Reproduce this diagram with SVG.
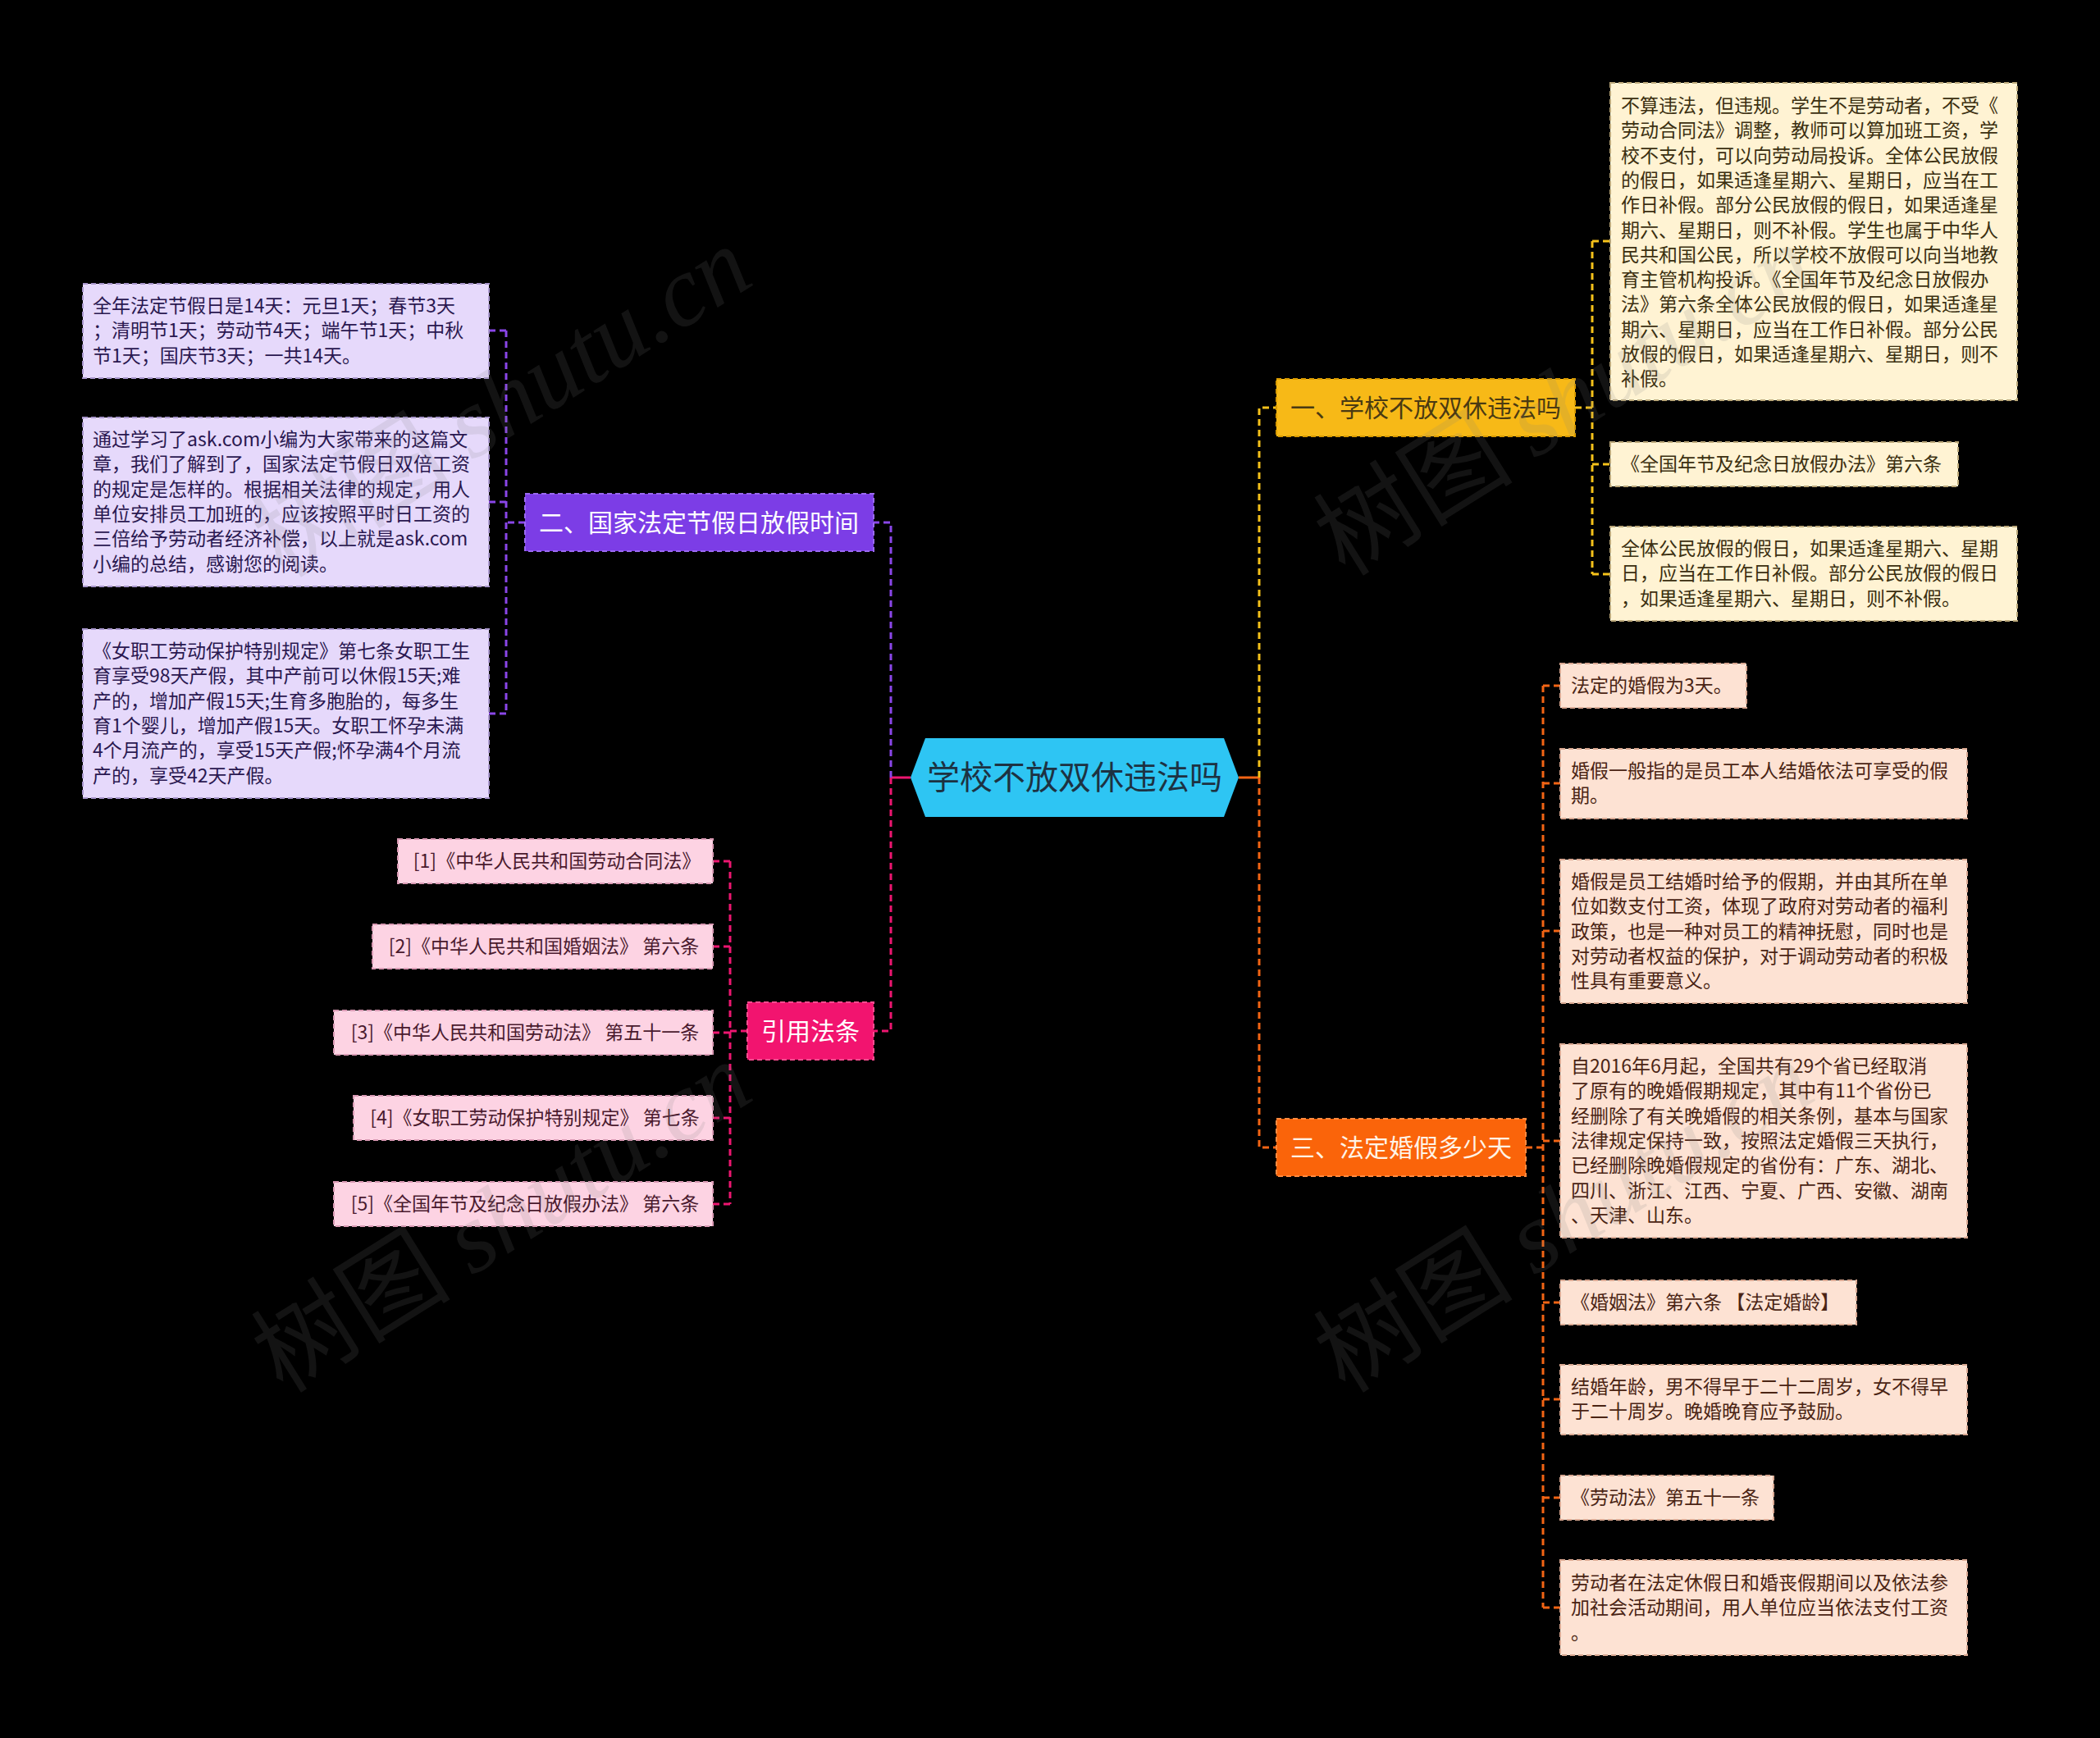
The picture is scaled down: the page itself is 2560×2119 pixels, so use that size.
<svg xmlns="http://www.w3.org/2000/svg" width="2560" height="2119" viewBox="0 0 2560 2119">
<style>
text{font-family:'Noto Sans CJK SC','Noto Sans',sans-serif}
.c{fill:none;stroke-width:3;stroke-dasharray:8 5}
.s{fill:none;stroke-width:3}
.cy{stroke:#f5c11a}.cp{stroke:#8a46e8}.ck{stroke:#ec1670}.co{stroke:#f26414}
.t{font-size:23px}
.m{font-size:30px;text-anchor:middle}
.by{fill:#fff3d3;stroke:#bba87a;stroke-width:2;stroke-dasharray:6 4}
.bp{fill:#e6d9fb;stroke:#a896cc;stroke-width:2;stroke-dasharray:6 4}
.bk{fill:#fdd3e3;stroke:#d99ab4;stroke-width:2;stroke-dasharray:6 4}
.bo{fill:#fde2d3;stroke:#d9a892;stroke-width:2;stroke-dasharray:6 4}
.ty{fill:#3b2f10}.tp{fill:#2a1850}.tk{fill:#4a1a2e}.to{fill:#4a2414}
.wm{fill:#808080;opacity:.15;font-size:122px}
</style>
<rect x="0" y="0" width="2560" height="2119" fill="#000"/>
<g id="connectors">
<path class="s ck" d="M1110 948H1086"/>
<path class="s co" d="M1510 948H1535"/>
<path class="c cp" d="M1086 948V637H1065"/>
<path class="c ck" d="M1086 948V1257H1065"/>
<path class="c cy" d="M1535 948V497H1556"/>
<path class="c co" d="M1535 948V1399H1556"/>
<path class="c cy" d="M1920 497H1941M1941 294V700M1941 294H1963M1941 566H1963M1941 700H1963"/>
<path class="c cp" d="M640 637H617M617 403V870M617 403H596M617 612H596M617 870H596"/>
<path class="c ck" d="M911 1257H890M890 1050V1468M890 1050H869M890 1154H869M890 1259H869M890 1363H869M890 1468H869"/>
<path class="c co" d="M1860 1399H1881M1881 836V1960M1881 836H1902M1881 955H1902M1881 1135H1902M1881 1391H1902M1881 1588H1902M1881 1706H1902M1881 1826H1902M1881 1960H1902"/>
</g>
<g id="root">
<polygon points="1110,948 1128,900 1492,900 1510,948 1492,996 1128,996" fill="#2ec5f3"/>
<text x="1310" y="962" font-size="40" text-anchor="middle" fill="#1d3242">学校不放双休违法吗</text>
</g>
<g id="n1">
<rect x="1556" y="462" width="364" height="70" fill="#f7b917" stroke="#d99b00" stroke-width="2" stroke-dasharray="6 4"/>
<text class="m" x="1738" y="508" fill="#4a3a12">一、学校不放双休违法吗</text>
</g>
<g id="n2">
<rect x="640" y="602" width="425" height="70" fill="#7c3de6" stroke="#9a6af0" stroke-width="2" stroke-dasharray="6 4"/>
<text class="m" x="852" y="648" fill="#fff">二、国家法定节假日放假时间</text>
</g>
<g id="n3">
<rect x="1556" y="1364" width="304" height="70" fill="#fa640a" stroke="#ff8a40" stroke-width="2" stroke-dasharray="6 4"/>
<text class="m" x="1708" y="1410" fill="#fff3e6">三、法定婚假多少天</text>
</g>
<g id="n4">
<rect x="911" y="1222" width="154" height="70" fill="#f2146f" stroke="#ff4d90" stroke-width="2" stroke-dasharray="6 4"/>
<text class="m" x="988" y="1268" fill="#fff">引用法条</text>
</g>
<g id="y1">
<rect class="by" x="1963" y="101" width="496" height="387"/>
<text class="t ty" x="1976" y="137"><tspan x="1976">不算违法，但违规。学生不是劳动者，不受《</tspan><tspan x="1976" dy="30.3">劳动合同法》调整，教师可以算加班工资，学</tspan><tspan x="1976" dy="30.3">校不支付，可以向劳动局投诉。全体公民放假</tspan><tspan x="1976" dy="30.3">的假日，如果适逢星期六、星期日，应当在工</tspan><tspan x="1976" dy="30.3">作日补假。部分公民放假的假日，如果适逢星</tspan><tspan x="1976" dy="30.3">期六、星期日，则不补假。学生也属于中华人</tspan><tspan x="1976" dy="30.3">民共和国公民，所以学校不放假可以向当地教</tspan><tspan x="1976" dy="30.3">育主管机构投诉。《全国年节及纪念日放假办</tspan><tspan x="1976" dy="30.3">法》第六条全体公民放假的假日，如果适逢星</tspan><tspan x="1976" dy="30.3">期六、星期日，应当在工作日补假。部分公民</tspan><tspan x="1976" dy="30.3">放假的假日，如果适逢星期六、星期日，则不</tspan><tspan x="1976" dy="30.3">补假。</tspan></text>
</g>
<g id="y2">
<rect class="by" x="1963" y="539" width="424" height="54"/>
<text class="t ty" x="1976" y="574">《全国年节及纪念日放假办法》第六条</text>
</g>
<g id="y3">
<rect class="by" x="1963" y="642" width="496" height="115"/>
<text class="t ty" x="1976" y="677"><tspan x="1976">全体公民放假的假日，如果适逢星期六、星期</tspan><tspan x="1976" dy="30.3">日，应当在工作日补假。部分公民放假的假日</tspan><tspan x="1976" dy="30.3">，如果适逢星期六、星期日，则不补假。</tspan></text>
</g>
<g id="p1">
<rect class="bp" x="101" y="346" width="495" height="115"/>
<text class="t tp" x="113" y="381"><tspan x="113">全年法定节假日是14天：元旦1天；春节3天</tspan><tspan x="113" dy="30.3">；清明节1天；劳动节4天；端午节1天；中秋</tspan><tspan x="113" dy="30.3">节1天；国庆节3天；一共14天。</tspan></text>
</g>
<g id="p2">
<rect class="bp" x="101" y="509" width="495" height="206"/>
<text class="t tp" x="113" y="544"><tspan x="113">通过学习了ask.com小编为大家带来的这篇文</tspan><tspan x="113" dy="30.3">章，我们了解到了，国家法定节假日双倍工资</tspan><tspan x="113" dy="30.3">的规定是怎样的。根据相关法律的规定，用人</tspan><tspan x="113" dy="30.3">单位安排员工加班的，应该按照平时日工资的</tspan><tspan x="113" dy="30.3">三倍给予劳动者经济补偿，以上就是ask.com</tspan><tspan x="113" dy="30.3">小编的总结，感谢您的阅读。</tspan></text>
</g>
<g id="p3">
<rect class="bp" x="101" y="767" width="495" height="206"/>
<text class="t tp" x="113" y="802"><tspan x="113">《女职工劳动保护特别规定》第七条女职工生</tspan><tspan x="113" dy="30.3">育享受98天产假，其中产前可以休假15天;难</tspan><tspan x="113" dy="30.3">产的，增加产假15天;生育多胞胎的，每多生</tspan><tspan x="113" dy="30.3">育1个婴儿，增加产假15天。女职工怀孕未满</tspan><tspan x="113" dy="30.3">4个月流产的，享受15天产假;怀孕满4个月流</tspan><tspan x="113" dy="30.3">产的，享受42天产假。</tspan></text>
</g>
<g id="k1">
<rect class="bk" x="485" y="1023" width="384" height="54"/>
<text class="t tk" x="679" y="1058" text-anchor="middle">[1]《中华人民共和国劳动合同法》</text>
</g>
<g id="k2">
<rect class="bk" x="454" y="1127" width="415" height="54"/>
<text class="t tk" x="663" y="1162" text-anchor="middle">[2]《中华人民共和国婚姻法》 第六条</text>
</g>
<g id="k3">
<rect class="bk" x="407" y="1232" width="462" height="54"/>
<text class="t tk" x="640" y="1267" text-anchor="middle">[3]《中华人民共和国劳动法》 第五十一条</text>
</g>
<g id="k4">
<rect class="bk" x="431" y="1336" width="438" height="54"/>
<text class="t tk" x="652" y="1371" text-anchor="middle">[4]《女职工劳动保护特别规定》 第七条</text>
</g>
<g id="k5">
<rect class="bk" x="407" y="1441" width="462" height="54"/>
<text class="t tk" x="640" y="1476" text-anchor="middle">[5]《全国年节及纪念日放假办法》 第六条</text>
</g>
<g id="o1">
<rect class="bo" x="1902" y="809" width="227" height="54"/>
<text class="t to" x="1915" y="844">法定的婚假为3天。</text>
</g>
<g id="o2">
<rect class="bo" x="1902" y="913" width="496" height="85"/>
<text class="t to" x="1915" y="948"><tspan x="1915">婚假一般指的是员工本人结婚依法可享受的假</tspan><tspan x="1915" dy="30.3">期。</tspan></text>
</g>
<g id="o3">
<rect class="bo" x="1902" y="1048" width="496" height="175"/>
<text class="t to" x="1915" y="1083"><tspan x="1915">婚假是员工结婚时给予的假期，并由其所在单</tspan><tspan x="1915" dy="30.3">位如数支付工资，体现了政府对劳动者的福利</tspan><tspan x="1915" dy="30.3">政策，也是一种对员工的精神抚慰，同时也是</tspan><tspan x="1915" dy="30.3">对劳动者权益的保护，对于调动劳动者的积极</tspan><tspan x="1915" dy="30.3">性具有重要意义。</tspan></text>
</g>
<g id="o4">
<rect class="bo" x="1902" y="1273" width="496" height="236"/>
<text class="t to" x="1915" y="1308"><tspan x="1915">自2016年6月起，全国共有29个省已经取消</tspan><tspan x="1915" dy="30.3">了原有的晚婚假期规定，其中有11个省份已</tspan><tspan x="1915" dy="30.3">经删除了有关晚婚假的相关条例，基本与国家</tspan><tspan x="1915" dy="30.3">法律规定保持一致，按照法定婚假三天执行，</tspan><tspan x="1915" dy="30.3">已经删除晚婚假规定的省份有：广东、湖北、</tspan><tspan x="1915" dy="30.3">四川、浙江、江西、宁夏、广西、安徽、湖南</tspan><tspan x="1915" dy="30.3">、天津、山东。</tspan></text>
</g>
<g id="o5">
<rect class="bo" x="1902" y="1561" width="361" height="54"/>
<text class="t to" x="1915" y="1596">《婚姻法》第六条 【法定婚龄】</text>
</g>
<g id="o6">
<rect class="bo" x="1902" y="1664" width="496" height="85"/>
<text class="t to" x="1915" y="1699"><tspan x="1915">结婚年龄，男不得早于二十二周岁，女不得早</tspan><tspan x="1915" dy="30.3">于二十周岁。晚婚晚育应予鼓励。</tspan></text>
</g>
<g id="o7">
<rect class="bo" x="1902" y="1799" width="260" height="54"/>
<text class="t to" x="1915" y="1834">《劳动法》第五十一条</text>
</g>
<g id="o8">
<rect class="bo" x="1902" y="1902" width="496" height="116"/>
<text class="t to" x="1915" y="1938"><tspan x="1915">劳动者在法定休假日和婚丧假期间以及依法参</tspan><tspan x="1915" dy="30.3">加社会活动期间，用人单位应当依法支付工资</tspan><tspan x="1915" dy="30.3">。</tspan></text>
</g>
<g id="watermarks">
<text class="wm" transform="translate(345 706) rotate(-32)">树图 <tspan font-family="'Liberation Serif',serif" font-style="italic">shutu.cn</tspan></text>
<text class="wm" transform="translate(345 1700) rotate(-32)">树图 <tspan font-family="'Liberation Serif',serif" font-style="italic">shutu.cn</tspan></text>
<text class="wm" transform="translate(1640 704) rotate(-32)">树图 <tspan font-family="'Liberation Serif',serif" font-style="italic">shutu.cn</tspan></text>
<text class="wm" transform="translate(1640 1700) rotate(-32)">树图 <tspan font-family="'Liberation Serif',serif" font-style="italic">shutu.cn</tspan></text>
</g>
</svg>
